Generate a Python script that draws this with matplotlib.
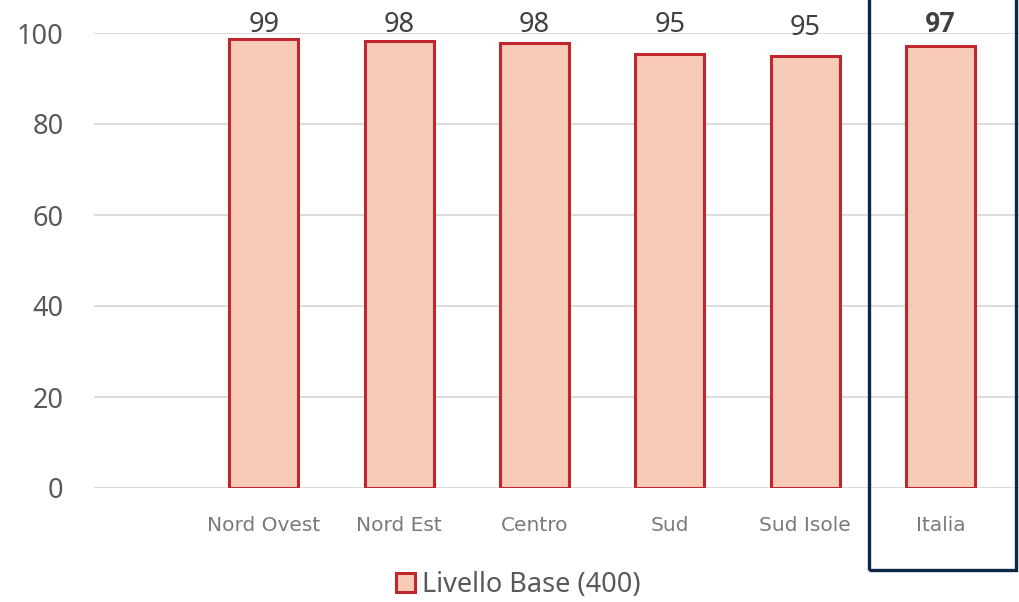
import matplotlib
matplotlib.use("Agg")
import matplotlib.pyplot as plt
from matplotlib.patches import Patch, Rectangle
import numpy as np

# Percentuale studenti almeno al Livello Base (400), per area geografica
CATEGORIES = ["Nord Ovest", "Nord Est", "Centro", "Sud", "Sud Isole", "Italia"]
VALUES = [98.6, 98.3, 97.9, 95.4, 94.9, 97.1]
SERIES = "Livello Base (400)"
Y_TICKS = [0, 20, 40, 60, 80, 100]

FILL = "#f8cab8"
EDGE = "#c0272d"
W, H = 1019, 602
FONT = "Noto Sans"

fig = plt.figure(figsize=(W / 100, H / 100), dpi=100)
ax = fig.add_axes([94 / W, (H - 488) / H, (W - 94) / W, 455 / H])

x = np.arange(1, len(CATEGORIES) + 1)
ax.bar(x, VALUES, 0.51, color=FILL, edgecolor=EDGE, linewidth=2.2, zorder=3)

ax.set_ylim(0, 100)
ax.set_xlim(-0.256, 6.58)
ax.set_yticks(Y_TICKS)
ax.set_yticklabels([str(t) for t in Y_TICKS], fontsize=19.5, color="#595959",
                   family=FONT)
ax.set_xticks(x)
ax.set_xticklabels(CATEGORIES, fontsize=14.5, color="#7a7a7a", family="DejaVu Sans")
ax.tick_params(axis="y", length=0, pad=22)
ax.tick_params(axis="x", length=0, pad=20)
ax.grid(axis="y", color="#d9d9d9", lw=1.3, zorder=0)
for s in ax.spines.values():
    s.set_visible(False)

# value labels sit on the top gridline (Sud Isole a bit lower, as in the source)
label_y = [100, 100, 100, 100, 99.3, 100]
for i, (xi, v) in enumerate(zip(x, VALUES)):
    bold = CATEGORIES[i] == "Italia"
    ax.text(xi, label_y[i] + 0.2, f"{v:.0f}", ha="center", va="baseline",
            fontsize=19.5, color="#404040",
            family="Roboto" if bold else FONT,
            fontweight="bold" if bold else "normal", clip_on=False)

# highlight box around Italia
fig.patches.append(Rectangle((869 / W, (H - 570) / H), 147 / W, 0.98,
                             transform=fig.transFigure, fill=False,
                             edgecolor="#0c2849", linewidth=2.4, clip_on=False))

fig.legend(handles=[Patch(facecolor=FILL, edgecolor=EDGE, linewidth=2.2, label=SERIES)],
           loc="center", bbox_to_anchor=(518 / W, 1 - 585 / H), frameon=False,
           prop={"family": FONT, "size": 19.5}, labelcolor="#595959",
           handlelength=0.7, handleheight=0.7, handletextpad=0.25)

fig.savefig("out.png", dpi=100)
